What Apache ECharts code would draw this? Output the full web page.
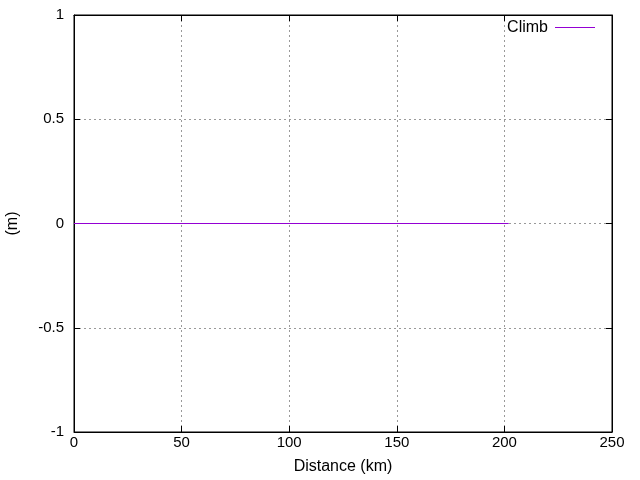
<!DOCTYPE html>
<html><head><meta charset="utf-8">
<script src="https://cdn.jsdelivr.net/npm/echarts@6/dist/echarts.min.js"></script>
<style>html,body{margin:0;padding:0;background:#fff}#c{width:640px;height:480px}</style>
</head><body><div id="c"></div>
<script>
const distance = [0, 202];
const climb = [0, 0];
const seriesName = 'Climb';
const xTicks = [0, 50, 100, 150, 200, 250];
const yTicks = [-1, -0.5, 0, 0.5, 1];

const font = 'Liberation Sans, Arial, sans-serif';
const chart = echarts.init(document.getElementById('c'));
const hidden = {show:false};
chart.setOption({
  animation:false,
  backgroundColor:'#fff',
  textStyle:{fontFamily:font},
  legend:{
    right:40, top:14.5, align:'right', itemWidth:40, itemHeight:1, itemGap:0,
    textStyle:{fontSize:16, color:'#000', fontFamily:font, padding:[0,2,0,0]},
    data:[{name:seriesName, icon:'rect'}]
  },
  grid:{left:74, right:28, top:15, bottom:48, show:true, borderColor:'#000', borderWidth:1, outerBoundsMode:'none', containLabel:false},
  xAxis:[{
    type:'value', min:xTicks[0], max:xTicks[xTicks.length-1], interval:50,
    name:'Distance (km)', nameLocation:'middle', nameGap:27,
    nameTextStyle:{fontSize:16, color:'#000', fontFamily:font},
    axisLine:{show:true, onZero:false, lineStyle:{color:'#000'}},
    axisTick:{inside:true, length:6, lineStyle:{color:'#000'}},
    axisLabel:{fontSize:15, color:'#000', margin:3, fontFamily:font},
    splitLine:{show:true, lineStyle:{color:'#999', type:[2,3], width:1}}
  },{
    type:'value', position:'top', min:xTicks[0], max:xTicks[xTicks.length-1], interval:50,
    axisLine:{show:true, onZero:false, lineStyle:{color:'#000'}},
    axisTick:{inside:true, length:6, lineStyle:{color:'#000'}},
    axisLabel:hidden, splitLine:hidden
  }],
  yAxis:[{
    type:'value', min:yTicks[0], max:yTicks[yTicks.length-1], interval:0.5,
    name:'(m)', nameLocation:'middle', nameGap:53, nameRotate:90,
    nameTextStyle:{fontSize:16, color:'#000', fontFamily:font},
    axisLine:{show:true, onZero:false, lineStyle:{color:'#000'}},
    axisTick:{inside:true, length:6, lineStyle:{color:'#000'}},
    axisLabel:{fontSize:15, color:'#000', margin:10, fontFamily:font},
    splitLine:{show:true, lineStyle:{color:'#999', type:[2,3], width:1}}
  },{
    type:'value', position:'right', min:yTicks[0], max:yTicks[yTicks.length-1], interval:0.5,
    axisLine:{show:true, onZero:false, lineStyle:{color:'#000'}},
    axisTick:{inside:true, length:6, lineStyle:{color:'#000'}},
    axisLabel:hidden, splitLine:hidden
  }],
  series:[{
    name:seriesName, type:'line', showSymbol:false, symbol:'none',
    lineStyle:{color:'#9400d3', width:1}, itemStyle:{color:'#9400d3'},
    data: distance.map((d,i)=>[d, climb[i]])
  }]
});
</script></body></html>
